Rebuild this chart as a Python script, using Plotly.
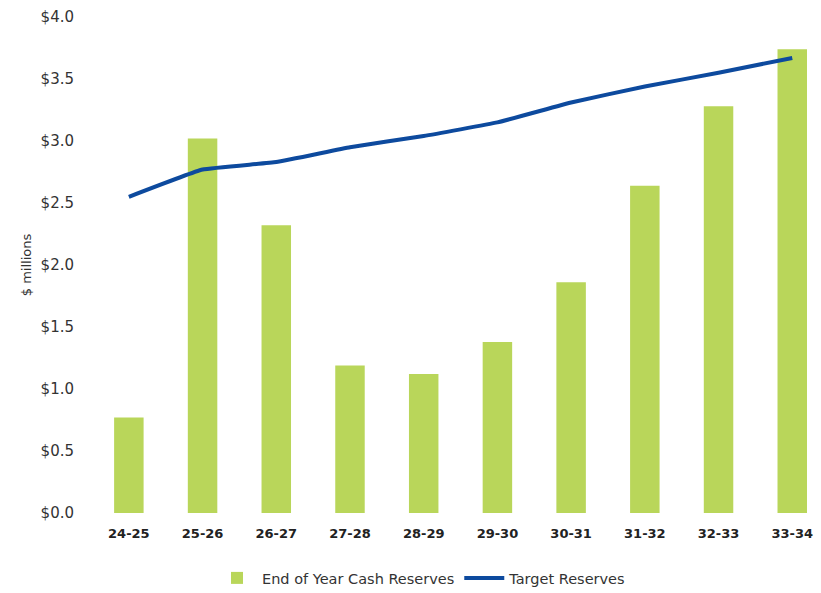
import plotly.graph_objects as go

years = ["24-25", "25-26", "26-27", "27-28", "28-29", "29-30", "30-31", "31-32", "32-33", "33-34"]
cash_reserves = [0.77, 3.02, 2.32, 1.19, 1.12, 1.38, 1.86, 2.64, 3.28, 3.74]
target_reserves = [2.55, 2.77, 2.83, 2.95, 3.04, 3.15, 3.31, 3.44, 3.55, 3.67]
y_ticks = [0, 0.5, 1.0, 1.5, 2.0, 2.5, 3.0, 3.5, 4.0]
y_tick_labels = ["$%.1f" % v for v in y_ticks]

FONT = "DejaVu Sans"

def f(size, color="#333333", weight="normal"):
    return dict(family=FONT, size=size, color=color, weight=weight)

fig = go.Figure()
fig.add_trace(go.Bar(
    x=years, y=cash_reserves, name="End of Year Cash Reserves",
    marker=dict(color="#b9d65a", line=dict(width=0)),
))
fig.add_trace(go.Scatter(
    x=years, y=target_reserves, name="Target Reserves", mode="lines",
    line=dict(color="#0d4a9e", width=4, shape="spline", smoothing=0.3),
))

fig.update_layout(
    width=821, height=593,
    margin=dict(l=92, r=0, t=17, b=80, autoexpand=False),
    paper_bgcolor="white", plot_bgcolor="white",
    bargap=0.6,
    font=f(14),
    showlegend=True,
    legend=dict(orientation="h", x=0.452, xanchor="center", y=-0.131, yanchor="middle",
                font=f(14.5),
                itemwidth=40, traceorder="normal"),
    xaxis=dict(
        type="category", range=[-0.5, 9.39], automargin=False,
        showgrid=False, showline=False, zeroline=False,
        ticks="outside", ticklen=8, tickcolor="white",
        tickfont=f(13, "#222222", "bold"),
    ),
    yaxis=dict(
        range=[0, 4.0], tickvals=y_ticks, ticktext=y_tick_labels, automargin=False,
        showgrid=False, showline=False, zeroline=False,
        ticks="outside", ticklen=14, tickcolor="white",
        tickfont=f(15),
        title=dict(text="$ millions", font=f(13), standoff=6),
    ),
)

post = "document.body.style.margin = '0';"
fig.write_html("out.html", post_script=post, config={"displayModeBar": False})
